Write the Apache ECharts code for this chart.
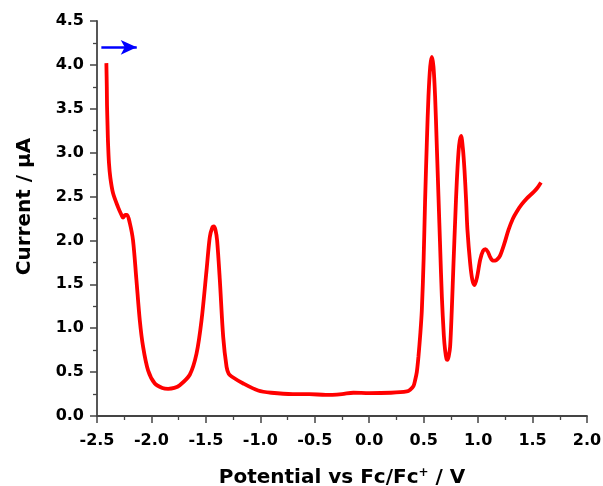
<!DOCTYPE html>
<html>
<head>
<meta charset="utf-8">
<script src="https://cdn.jsdelivr.net/npm/echarts@6/dist/echarts.min.js"></script>
<style>
html,body{margin:0;padding:0;background:#fff;}
#chart{width:603px;height:486px;}
</style>
</head>
<body>
<div id="chart"></div>
<script>
const potential = [-2.414,-2.410,-2.408,-2.403,-2.399,-2.390,-2.377,-2.353,-2.307,-2.275,-2.261,-2.240,-2.224,-2.199,-2.169,-2.138,-2.107,-2.077,-2.031,-1.969,-1.900,-1.847,-1.790,-1.740,-1.648,-1.586,-1.540,-1.494,-1.464,-1.440,-1.427,-1.412,-1.397,-1.372,-1.341,-1.310,-1.290,-1.264,-1.157,-1.020,-0.900,-0.700,-0.550,-0.400,-0.250,-0.146,0.000,0.200,0.345,0.376,0.406,0.422,0.437,0.452,0.470,0.483,0.500,0.513,0.530,0.544,0.560,0.575,0.590,0.605,0.620,0.636,0.652,0.667,0.685,0.697,0.710,0.718,0.730,0.743,0.758,0.774,0.790,0.805,0.825,0.844,0.860,0.875,0.890,0.902,0.927,0.947,0.967,0.990,1.019,1.045,1.068,1.090,1.111,1.135,1.157,1.180,1.203,1.240,1.279,1.320,1.356,1.400,1.448,1.509,1.545,1.577];
const current = [4.02,3.75,3.54,3.30,3.12,2.88,2.71,2.54,2.38,2.29,2.26,2.29,2.29,2.20,2.00,1.55,1.09,0.79,0.52,0.37,0.32,0.31,0.32,0.35,0.47,0.71,1.09,1.66,2.04,2.15,2.16,2.12,2.00,1.55,0.90,0.56,0.48,0.45,0.37,0.29,0.265,0.25,0.25,0.24,0.25,0.265,0.26,0.265,0.28,0.30,0.34,0.41,0.50,0.675,0.95,1.20,1.80,2.45,3.15,3.64,3.98,4.09,3.98,3.64,3.10,2.50,1.90,1.36,0.92,0.75,0.65,0.64,0.68,0.79,1.20,1.74,2.25,2.69,3.08,3.19,3.05,2.80,2.45,2.12,1.74,1.55,1.49,1.58,1.78,1.88,1.90,1.87,1.81,1.77,1.77,1.79,1.83,1.96,2.12,2.25,2.33,2.41,2.48,2.55,2.60,2.66];
const arrowStart = [-2.46, 4.2];
const arrowEnd = [-2.135, 4.2];
const xTitle = 'Potential vs Fc/Fc{sup|+} / V';
const yTitle = 'Current / μA';

const FONT = '"DejaVu Sans", sans-serif';
const chart = echarts.init(document.getElementById('chart'), null, {renderer:'canvas'});
const axisLabelStyle = {color:'#000', fontFamily:FONT, fontWeight:'bold', fontSize:16};
const axisLine = {show:true, onZero:false, lineStyle:{color:'#444', width:1.8}};
chart.setOption({
  animation:false,
  backgroundColor:'#fff',
  grid:{left:97, right:16, top:21, bottom:70, containLabel:false, outerBoundsMode:'none'},
  xAxis:{
    type:'value', min:-2.5, max:2.0, interval:0.5,
    axisLine:axisLine,
    axisTick:{show:true, inside:false, length:7, lineStyle:{color:'#444', width:1.5}},
    minorTick:{show:true, splitNumber:2, length:4, lineStyle:{color:'#444', width:1.3}},
    splitLine:{show:false},
    axisLabel:Object.assign({margin:17, formatter:v=>v.toFixed(1)}, axisLabelStyle),
    name:xTitle, nameLocation:'middle', nameGap:51,
    nameTextStyle:{color:'#000', fontFamily:FONT, fontWeight:'bold', fontSize:20,
      rich:{sup:{fontSize:12, fontWeight:'bold', fontFamily:FONT, color:'#000', verticalAlign:'top', padding:[0,0,9,0]}}}
  },
  yAxis:{
    type:'value', min:0, max:4.5, interval:0.5,
    axisLine:axisLine,
    axisTick:{show:true, inside:false, length:7, lineStyle:{color:'#444', width:1.5}},
    minorTick:{show:true, splitNumber:2, length:4, lineStyle:{color:'#444', width:1.3}},
    splitLine:{show:false},
    axisLabel:Object.assign({margin:13, formatter:v=>v.toFixed(1)}, axisLabelStyle),
    name:yTitle, nameLocation:'middle', nameGap:62,
    nameTextStyle:{color:'#000', fontFamily:FONT, fontWeight:'bold', fontSize:20, padding:[0,0,0,24]}
  },
  series:[
    {
      type:'line',
      data:potential.map((x,i)=>[x,current[i]]),
      showSymbol:false, symbol:'none',
      smooth:0.3,
      lineStyle:{color:'#ff0000', width:3.8},
      markLine:{
        silent:true,
        symbol:['none','arrow'], symbolSize:[11,16],
        label:{show:false},
        lineStyle:{color:'#0000ff', width:2.5, type:'solid'},
        data:[[{coord:arrowStart},{coord:arrowEnd}]]
      }
    }
  ]
});
</script>
</body>
</html>
